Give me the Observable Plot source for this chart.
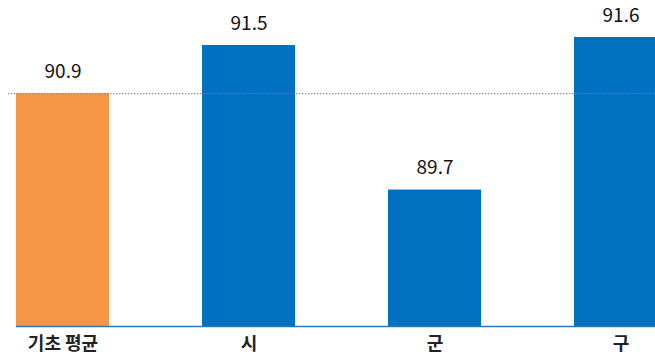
<!DOCTYPE html>
<html>
<head>
<meta charset="utf-8">
<script src="https://cdn.jsdelivr.net/npm/d3@7"></script>
<script src="https://cdn.jsdelivr.net/npm/@observablehq/plot@0.6"></script>
<style>
  html, body { margin: 0; padding: 0; background: #fff; overflow: hidden; }
  #chart svg { overflow: hidden; display: block; }
</style>
</head>
<body>
<div id="chart"></div>
<script>
const categories = ["기초 평균", "시", "군", "구"];
const values = [90.9, 91.5, 89.7, 91.6];
const barColors = ["#F79646", "#0070C0", "#0070C0", "#0070C0"];
const averageValue = 90.9;
const baseValue = 88;

const data = categories.map((c, i) => ({category: c, value: values[i], color: barColors[i]}));
const font = "'Noto Sans CJK KR', 'Noto Sans', sans-serif";

const chart = Plot.plot({
  width: 655,
  height: 358,
  marginTop: 37,
  marginBottom: 32,
  marginLeft: 8,
  marginRight: 0,
  style: {fontFamily: font, background: "#fff", overflow: "hidden"},
  x: {type: "band", domain: categories, range: [16, 667], paddingInner: 0.5, paddingOuter: 0, label: null},
  y: {domain: [baseValue, d3.max(values)], axis: null},
  marks: [
    Plot.barY(data, {x: "category", y1: () => baseValue, y2: "value", fill: "color"}),
    Plot.ruleY([baseValue], {stroke: "#2E75B6", strokeWidth: 1.5, insetLeft: 8}),
    Plot.ruleY([averageValue], {stroke: "#7F7F7F", strokeWidth: 1, strokeDasharray: "1.5,1.5"}),
    Plot.text(data, {x: "category", y: "value", text: d => d.value.toFixed(1), dy: -22, fontSize: 19, fill: "#111", fontFamily: font}),
    Plot.axisX({tickSize: 0, tickPadding: 11, fontSize: 18, fontWeight: "bold", fill: "#222", fontFamily: font, label: null})
  ]
});
document.getElementById("chart").append(chart);
</script>
</body>
</html>
